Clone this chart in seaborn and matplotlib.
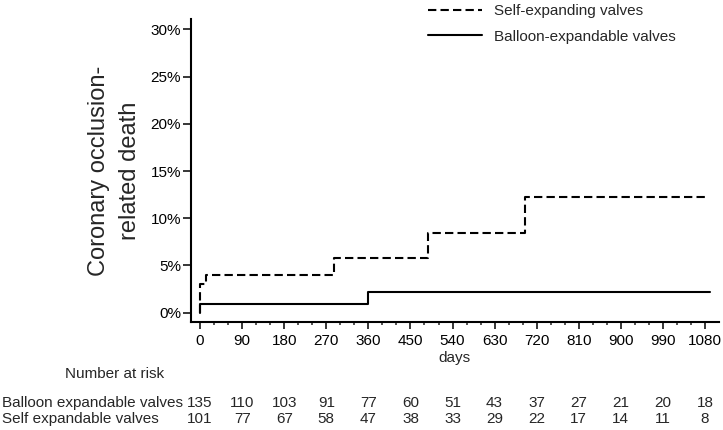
import matplotlib
matplotlib.use("Agg")
import matplotlib.pyplot as plt
import matplotlib.transforms as mtransforms
import seaborn as sns
import pandas as pd

# Cumulative incidence steps (percent)
self_days = [0, 0, 12, 287, 487, 695, 1083]
self_risk = [0.0, 3.0, 4.0, 5.8, 8.4, 12.2, 12.2]
balloon_days = [0, 0, 360, 1090]
balloon_risk = [0.0, 0.9, 2.2, 2.2]

# Number at risk table
risk_times = [0, 90, 180, 270, 360, 450, 540, 630, 720, 810, 900, 990, 1080]
balloon_at_risk = [135, 110, 103, 91, 77, 60, 51, 43, 37, 27, 21, 20, 18]
self_at_risk = [101, 77, 67, 58, 47, 38, 33, 29, 22, 17, 14, 11, 8]

y_ticks = [0, 5, 10, 15, 20, 25, 30]
y_tick_labels = ["0%", "5%", "10%", "15%", "20%", "25%", "30%"]

sns.set_theme(style="white")
plt.rcParams['font.family'] = ['Liberation Sans', 'DejaVu Sans']

df_self = pd.DataFrame({'days': self_days, 'risk': self_risk})
df_balloon = pd.DataFrame({'days': balloon_days, 'risk': balloon_risk})

fig = plt.figure(figsize=(7.23, 4.30), dpi=100)
ax = fig.add_axes([0.2638, 0.2519, 0.9945 - 0.2638, 0.9551 - 0.2519])

sns.lineplot(data=df_self, x='days', y='risk', estimator=None, sort=False,
             drawstyle='steps-post', color='black', linewidth=1.5,
             linestyle=(0, (4, 2)), ax=ax, label='Self-expanding valves')
sns.lineplot(data=df_balloon, x='days', y='risk', estimator=None, sort=False,
             drawstyle='steps-post', color='black', linewidth=1.5,
             ax=ax, label='Balloon-expandable valves')

ax.set_xlim(-20, 1110)
ax.set_ylim(-0.95, 31.06)
ax.set_xticks(risk_times)
ax.set_xticks(range(0, 1081, 30), minor=True)
ax.set_yticks(y_ticks)
ax.set_yticklabels(y_tick_labels)
ax.tick_params(axis='both', which='major', labelsize=11, width=1.1, color='black',
               labelcolor='black')
ax.tick_params(axis='x', which='major', length=5, pad=4, bottom=True)
ax.tick_params(axis='x', which='minor', length=2.5, width=1.1, bottom=True)
ax.tick_params(axis='y', which='major', length=6, pad=1, left=True)

sns.despine(ax=ax)
for side in ['left', 'bottom']:
    ax.spines[side].set_color('black')
    ax.spines[side].set_linewidth(1.5)

ax.set_xlabel('days', fontsize=11, labelpad=2)
ax.set_ylabel('Coronary occlusion-\nrelated death', fontsize=17, labelpad=7,
              linespacing=1.5)

ax.legend(loc='upper left', bbox_to_anchor=(425 / 723, 1 - 1 / 430), bbox_transform=fig.transFigure,
          frameon=False, fontsize=11, handlelength=3.5, handletextpad=0.8,
          labelspacing=0.75, borderpad=0.2, borderaxespad=0)

# Number at risk table
trans = mtransforms.blended_transform_factory(ax.transData, fig.transFigure)
fig.text(115 / 723, 1 - 374 / 430, 'Number at risk', fontsize=11, ha='center', va='center')
fig.text(2 / 723, 1 - 403 / 430, 'Balloon expandable valves', fontsize=11, ha='left', va='center')
fig.text(2 / 723, 1 - 419 / 430, 'Self expandable valves', fontsize=11, ha='left', va='center')
for t, b, s in zip(risk_times, balloon_at_risk, self_at_risk):
    ax.text(t, 1 - 403 / 430, str(b), transform=trans, fontsize=11, ha='center', va='center')
    ax.text(t, 1 - 419 / 430, str(s), transform=trans, fontsize=11, ha='center', va='center')

fig.savefig('out.png', dpi=100)
